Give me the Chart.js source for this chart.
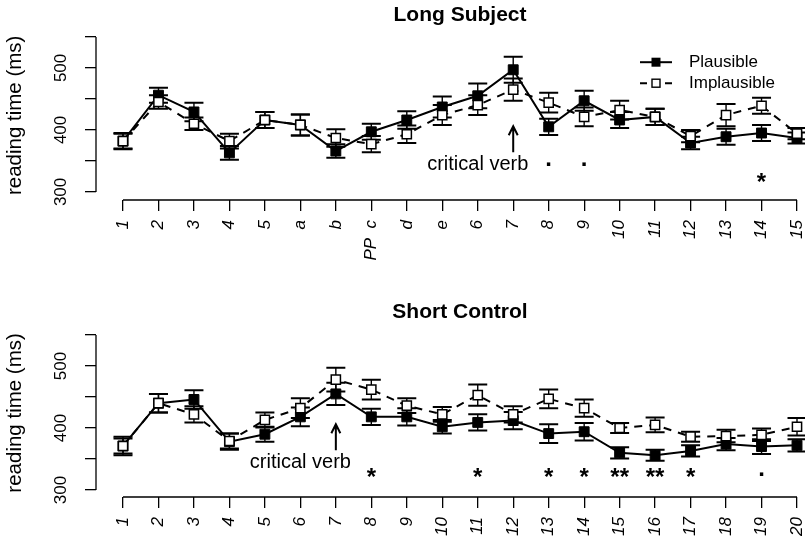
<!DOCTYPE html>
<html>
<head>
<meta charset="utf-8">
<script src="https://cdn.jsdelivr.net/npm/chart.js@4.4.1/dist/chart.umd.min.js"></script>
<style>
    html, body { margin: 0; padding: 0; background: #fff; overflow: hidden; }
    #wrap { position: relative; width: 805px; height: 544px; overflow: hidden; }
    canvas { position: absolute; left: 0; }
    #longChart { top: 0; }
    #shortChart { top: 290px; }
</style>
</head>
<body>
<div id="wrap">
    <canvas id="longChart" width="832" height="290"></canvas>
    <canvas id="shortChart" width="832" height="254"></canvas>
</div>
<script>
// **************************
//    DATA
// **************************
const longLabels = ['1', '2', '3', '4', '5', 'a', 'b', 'PP  c', 'd', 'e',
    '6', '7', '8', '9', '10', '11', '12', '13', '14', '15'];
const longPlausible   = [382, 456, 429, 363, 416, 408, 366, 397, 416, 437, 455, 497, 405, 447, 416, 421, 379, 389, 395, 387];
const longPlausibleSE = [13, 12, 15, 11, 13, 17, 11, 13, 14, 17, 20, 21, 13, 16, 13, 13, 10, 13, 13, 9];
const longImplausible   = [382, 445, 410, 382, 416, 408, 387, 377, 393, 424, 440, 465, 444, 421, 432, 421, 390, 424, 439, 394];
const longImplausibleSE = [12, 11, 10, 12, 13, 17, 14, 13, 14, 16, 16, 18, 16, 15, 15, 13, 10, 18, 13, 9];
const longSig = ['', '', '', '', '', '', '', '', '', '', '', '', '.', '.', '', '', '', '', '*', ''];

const shortLabels = ['1', '2', '3', '4', '5', '6', '7', '8', '9', '10',
    '11', '12', '13', '14', '15', '16', '17', '18', '19', '20'];
const shortPlausible   = [371, 440, 446, 378, 390, 418, 455, 418, 418, 402, 409, 412, 391, 394, 360, 356, 363, 374, 370, 372];
const shortPlausibleSE = [15, 15, 15, 13, 12, 15, 18, 13, 14, 11, 13, 14, 15, 14, 9, 9, 9, 10, 12, 10];
const shortImplausible   = [371, 440, 422, 379, 413, 432, 478, 462, 436, 422, 453, 422, 447, 432, 400, 405, 386, 387, 389, 402];
const shortImplausibleSE = [12, 15, 13, 12, 12, 16, 19, 16, 12, 12, 17, 13, 15, 14, 8, 12, 8, 10, 10, 14];
const shortSig = ['', '', '', '', '', '', '', '*', '', '', '*', '', '*', '*', '**', '**', '*', '', '.', ''];

const yTickLabels = [300, 400, 500];
const seriesNames = ['Plausible', 'Implausible'];

const FONT = '"Liberation Sans", Arial, Helvetica, sans-serif';
Chart.defaults.font.family = FONT;
Chart.defaults.color = '#000';

// **************************
//    PANEL DECORATION
// **************************
function makeDecor(cfg) {
    return {
        id: 'panelDecor',
        // error bars go under the squares
        beforeDatasetsDraw(chart) {
            const { ctx, scales: { x, y } } = chart;
            ctx.save();
            ctx.strokeStyle = '#000';
            chart.data.datasets.forEach(ds => {
                ds.data.forEach((p, i) => {
                    const px = x.getPixelForValue(p.x);
                    const lo = y.getPixelForValue(p.y - ds.se[i]);
                    const hi = y.getPixelForValue(p.y + ds.se[i]);
                    ctx.lineWidth = 1.4;
                    ctx.beginPath();
                    ctx.moveTo(px, lo); ctx.lineTo(px, hi);
                    ctx.stroke();
                    ctx.lineWidth = 2;
                    ctx.beginPath();
                    ctx.moveTo(px - 9.5, lo); ctx.lineTo(px + 9.5, lo);
                    ctx.moveTo(px - 9.5, hi); ctx.lineTo(px + 9.5, hi);
                    ctx.stroke();
                });
            });
            ctx.restore();
        },
        afterDraw(chart) {
            const { ctx, chartArea: ca, scales: { x, y } } = chart;
            const n = cfg.labels.length;
            ctx.save();
            ctx.strokeStyle = '#000';
            ctx.fillStyle = '#000';

            // R style axis lines
            ctx.lineWidth = 1.3;
            ctx.beginPath();
            ctx.moveTo(x.getPixelForValue(0), ca.bottom);
            ctx.lineTo(x.getPixelForValue(n - 1), ca.bottom);
            ctx.moveTo(ca.left, y.getPixelForValue(300));
            ctx.lineTo(ca.left, y.getPixelForValue(550));
            ctx.stroke();

            // vertical y tick labels
            ctx.font = '17px ' + FONT;
            ctx.textAlign = 'center';
            ctx.textBaseline = 'middle';
            yTickLabels.forEach(v => {
                ctx.save();
                ctx.translate(ca.left - 34.5, y.getPixelForValue(v));
                ctx.rotate(-Math.PI / 2);
                ctx.fillText(String(v), 0, 0);
                ctx.restore();
            });

            // critical verb arrow + text
            const ax = x.getPixelForValue(cfg.critical);
            const tip = y.getPixelForValue(406);
            ctx.lineWidth = 2;
            ctx.beginPath();
            ctx.moveTo(ax, y.getPixelForValue(364));
            ctx.lineTo(ax, tip);
            ctx.moveTo(ax - 4.5, tip + 9);
            ctx.lineTo(ax, tip);
            ctx.lineTo(ax + 4.5, tip + 9);
            ctx.stroke();
            ctx.font = '20px ' + FONT;
            ctx.fillText('critical verb', x.getPixelForValue(cfg.critical - 1), y.getPixelForValue(345));

            // significance marks
            ctx.font = 'bold 24px ' + FONT;
            ctx.textBaseline = 'alphabetic';
            cfg.sig.forEach((s, i) => {
                if (!s) return;
                const isDot = s === '.';
                const cy = y.getPixelForValue(isDot ? cfg.dotLevel : cfg.starLevel);
                const base = isDot ? cy + 1.5 : cy + 14;
                ctx.fillText(s, x.getPixelForValue(i), base);
            });

            // legend
            if (cfg.legend) {
                const x0 = ca.right - 184, x1 = ca.right - 152, xm = (x0 + x1) / 2;
                const rows = [ca.top + 31.5, ca.top + 52.5];
                ctx.font = '17px ' + FONT;
                ctx.textAlign = 'left';
                ctx.textBaseline = 'middle';
                rows.forEach((ry, k) => {
                    ctx.lineWidth = 2;
                    ctx.setLineDash(k === 0 ? [] : [7, 18]);
                    ctx.beginPath();
                    ctx.moveTo(x0, ry); ctx.lineTo(x1, ry);
                    ctx.stroke();
                    ctx.setLineDash([]);
                    if (k === 0) {
                        ctx.fillRect(xm - 4.5, ry - 4.5, 9, 9);
                    } else {
                        ctx.fillStyle = '#fff';
                        ctx.fillRect(xm - 4, ry - 4, 8, 8);
                        ctx.fillStyle = '#000';
                        ctx.lineWidth = 1.4;
                        ctx.strokeRect(xm - 4, ry - 4, 8, 8);
                    }
                    ctx.fillText(seriesNames[k], ca.right - 135, ry);
                });
            }
            ctx.restore();
        }
    };
}

// **************************
//    CHART BUILDER
// **************************
function makePanel(canvasId, cfg) {
    const pts = arr => arr.map((v, i) => ({ x: i, y: v }));
    return new Chart(document.getElementById(canvasId), {
        type: 'line',
        data: {
            datasets: [{
                label: seriesNames[1],
                data: pts(cfg.implausible),
                se: cfg.implausibleSE,
                order: 0,
                borderColor: '#000',
                borderWidth: 2,
                borderDash: [8, 7],
                pointStyle: 'rect',
                pointRadius: 6.5,
                pointBorderWidth: 1.5,
                pointBackgroundColor: '#fff',
                pointBorderColor: '#000',
                tension: 0
            }, {
                label: seriesNames[0],
                data: pts(cfg.plausible),
                se: cfg.plausibleSE,
                order: 1,
                borderColor: '#000',
                borderWidth: 2,
                pointStyle: 'rect',
                pointRadius: 7,
                pointBorderWidth: 1,
                pointBackgroundColor: '#000',
                pointBorderColor: '#000',
                tension: 0
            }]
        },
        options: {
            responsive: false,
            animation: false,
            layout: { padding: 0 },
            plugins: {
                legend: { display: false },
                tooltip: { enabled: false },
                title: {
                    display: true,
                    text: cfg.title,
                    fullSize: false,
                    font: { size: 21, weight: 'bold' },
                    padding: cfg.titlePad
                }
            },
            scales: {
                x: {
                    type: 'linear',
                    min: -0.761,
                    max: cfg.labels.length - 1 + 0.761,
                    afterFit: s => { s.height = cfg.xHeight; },
                    border: { display: false },
                    grid: { drawOnChartArea: false, tickLength: 11, color: '#000', lineWidth: 1.3 },
                    ticks: {
                        stepSize: 1,
                        autoSkip: false,
                        includeBounds: false,
                        minRotation: 90,
                        maxRotation: 90,
                        padding: 9,
                        font: { size: 17, style: 'italic' },
                        callback: v => cfg.labels[v] ?? ''
                    }
                },
                y: {
                    min: cfg.yMin,
                    max: 560,
                    afterFit: s => { s.width = 96; },
                    border: { display: false },
                    grid: { drawOnChartArea: false, tickLength: 11, color: '#000', lineWidth: 1.3 },
                    ticks: { stepSize: 50, includeBounds: false, display: false },
                    title: {
                        display: true,
                        text: 'reading time (ms)',
                        font: { size: 20.5 },
                        padding: { top: 3, bottom: 0 }
                    }
                }
            }
        },
        plugins: [makeDecor(cfg)]
    });
}

makePanel('longChart', {
    title: 'Long Subject',
    labels: longLabels,
    plausible: longPlausible, plausibleSE: longPlausibleSE,
    implausible: longImplausible, implausibleSE: longImplausibleSE,
    sig: longSig, dotLevel: 345, starLevel: 325,
    critical: 11,
    legend: true,
    yMin: 287,
    titlePad: { top: 3, bottom: 2.5 },
    xHeight: 90
});

makePanel('shortChart', {
    title: 'Short Control',
    labels: shortLabels,
    plausible: shortPlausible, plausibleSE: shortPlausibleSE,
    implausible: shortImplausible, implausibleSE: shortImplausibleSE,
    sig: shortSig, dotLevel: 325, starLevel: 330,
    critical: 6,
    legend: false,
    yMin: 288.7,
    titlePad: { top: 9.4, bottom: 4.2 },
    xHeight: 47
});
</script>
</body>
</html>
